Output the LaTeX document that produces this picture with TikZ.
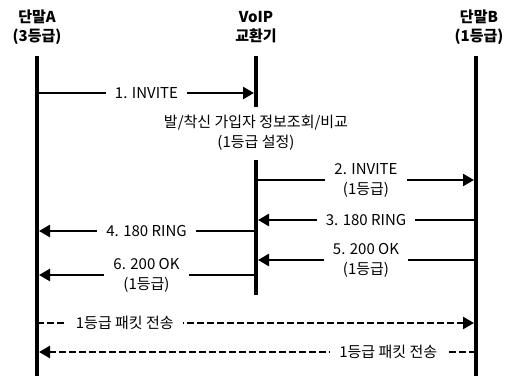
\documentclass[tikz,border=0pt]{standalone}
\usepackage{fontspec}
\setmainfont{Noto Sans CJK KR}
\usetikzlibrary{arrows.meta}

\begin{document}
\begin{tikzpicture}[x=1pt,y=1pt,
    life/.style={line width=4pt},
    msg/.style={line width=2.5pt,-{Triangle[length=11pt,width=12pt]},shorten >=2pt},
    pkt/.style={msg,dash pattern=on 7pt off 3pt},
    lbl/.style={fill=white,inner xsep=9pt,inner ysep=1pt,align=center,font=\fontsize{15}{20}\selectfont},
    head/.style={align=center,font=\fontsize{15}{19}\selectfont\bfseries}]
\useasboundingbox (0,0) rectangle (509,376);

% headers
\node[head] (hA) at (37,349) {단말A\\(3등급)};
\node[head] (hV) at (256,349) {VoIP\\교환기};
\node[head] (hB) at (479,349) {단말B\\(1등급)};

% lifelines
\coordinate (aT) at (37,320);  \coordinate (aB) at (37,0);
\coordinate (vT) at (256,320); \coordinate (v1) at (256,269);
\coordinate (v2) at (256,216); \coordinate (vB) at (256,81);
\coordinate (bT) at (476,320); \coordinate (bB) at (476,0);
\draw[life] (aT) -- (aB);
\draw[life] (vT) -- (v1);
\draw[life] (v2) -- (vB);
\draw[life] (bT) -- (bB);

\node[lbl] (chk) at (256,243) {발/착신 가입자 정보조회/비교\\(1등급 설정)};

% messages
\coordinate (a1) at (37,283);  \coordinate (v1m) at (256,283);
\coordinate (v2m) at (256,196); \coordinate (b2) at (476,196);
\coordinate (b3) at (476,156); \coordinate (v3) at (256,156);
\coordinate (v4) at (256,145); \coordinate (a4) at (37,145);
\coordinate (b5) at (476,116); \coordinate (v5) at (256,116);
\coordinate (v6) at (256,101); \coordinate (a6) at (37,101);
\coordinate (a7) at (37,53);   \coordinate (b7) at (476,53);
\coordinate (b8) at (476,24);  \coordinate (a8) at (37,24);

\draw[msg] (a1) -- node[lbl] {1. INVITE} (v1m);
\draw[msg] (v2m) -- node[lbl] {2. INVITE\\(1등급)} (b2);
\draw[msg] (b3) -- node[lbl] {3. 180 RING} (v3);
\draw[msg] (v4) -- node[lbl] {4. 180 RING} (a4);
\draw[msg] (b5) -- node[lbl] {5. 200 OK\\(1등급)} (v5);
\draw[msg] (v6) -- node[lbl] {6. 200 OK\\(1등급)} (a6);

% packets
\draw[pkt] (a7) -- node[lbl,pos=0.2] {1등급 패킷 전송} (b7);
\draw[pkt] (b8) -- node[lbl,pos=0.2] {1등급 패킷 전송} (a8);
\end{tikzpicture}
\end{document}
